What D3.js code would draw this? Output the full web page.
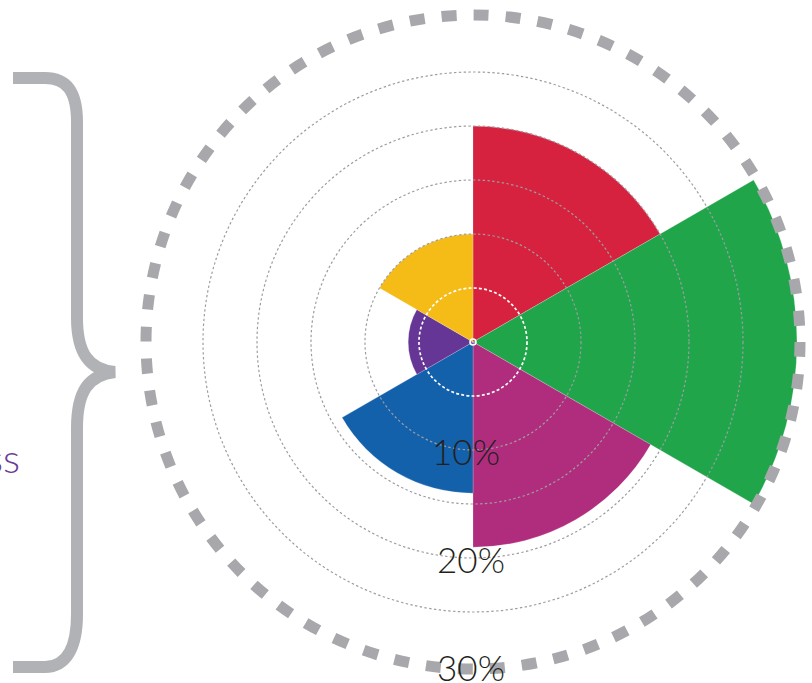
<!DOCTYPE html>
<html>
<head>
<meta charset="utf-8">
<script src="https://cdn.jsdelivr.net/npm/d3@7"></script>
<style>
  html, body { margin: 0; padding: 0; background: #fff; overflow: hidden; }
  svg { display: block; }
</style>
</head>
<body>
<svg id="chart" width="812" height="683"></svg>
<script>
// ---- data ----
const categories = ["Segment 1", "Segment 2", "Segment 3", "Segment 4", "Segment 5", "Segment 6"];
const values = [20, 30, 19, 14, 6, 10];            // percent
const colors = ["#d6223f", "#21a54b", "#b02d7e", "#1360ab", "#653695", "#f5bb17"];
const gridTicks = [10, 15, 20, 25];                // dotted grey rings
const innerTick = 5;                               // white dashed ring
const outerTick = 30;                              // thick dashed ring
const tickLabels = [10, 20, 30];
const sideLabel = "ss";

// ---- layout ----
const svg = d3.select("#chart");
const cx = 473, cy = 342;
const r = d3.scaleLinear().domain([0, 30]).range([0, 324]);
const angle = d3.scaleLinear().domain([0, categories.length]).range([0, 2 * Math.PI]);
const g = svg.append("g").attr("transform", `translate(${cx},${cy})`);
const font = "Lato, 'Liberation Sans', Arial, sans-serif";

// sectors
const arc = d3.arc().innerRadius(0);
g.selectAll("path.sector")
  .data(values)
  .join("path")
  .attr("class", "sector")
  .attr("d", (d, i) => arc({ outerRadius: r(d), startAngle: angle(i), endAngle: angle(i + 1) }))
  .attr("fill", (d, i) => colors[i])
  .attr("stroke", "#ffffff")
  .attr("stroke-opacity", 0.35)
  .attr("stroke-width", 0.6);

// dotted grid rings
g.selectAll("circle.grid")
  .data(gridTicks)
  .join("circle")
  .attr("class", "grid")
  .attr("r", d => r(d))
  .attr("fill", "none")
  .attr("stroke", "#9d9da1")
  .attr("stroke-width", 1.2)
  .attr("stroke-dasharray", "2.4 2.4");

// inner white ring
g.append("circle")
  .attr("r", r(innerTick))
  .attr("fill", "none")
  .attr("stroke", "#ffffff")
  .attr("stroke-width", 1.7)
  .attr("stroke-dasharray", "3 2.2");

// outer thick dashed ring
const rOuter = r(outerTick) + 3;
const circ = 2 * Math.PI * rOuter;
const period = circ / 64;
g.append("circle")
  .attr("r", rOuter)
  .attr("fill", "none")
  .attr("stroke", "#a8a8ac")
  .attr("stroke-width", 11)
  .attr("stroke-dasharray", `${15} ${period - 15}`)
  .attr("stroke-dashoffset", 0);

// center marker
g.append("circle")
  .attr("r", 3)
  .attr("fill", "none")
  .attr("stroke", "#ffffff")
  .attr("stroke-width", 1.6);

// tick labels
g.selectAll("text.tick")
  .data(tickLabels)
  .join("text")
  .attr("class", "tick")
  .attr("x", d => d === 10 ? -7 : -2)
  .attr("y", d => r(d) + 15)
  .attr("text-anchor", "middle")
  .attr("font-family", font)
  .attr("font-weight", 300)
  .attr("font-size", 35)
  .attr("fill", "#231f20")
  .text(d => d + "%");

// brace
const brace = "M13,78 L45,78 C66,78 77,90 77,122 L77,318 C77,352 88,370 115,372 " +
              "C88,375 77,392 77,428 L77,614 C77,648 66,667 45,667 L13,667";
svg.append("path")
  .attr("d", brace)
  .attr("fill", "none")
  .attr("stroke", "#b1b2b5")
  .attr("stroke-width", 12)
  .attr("stroke-linejoin", "miter")
  .attr("stroke-miterlimit", 10);

// side label (clipped by page edge, as in the reference)
svg.append("text")
  .attr("x", 20)
  .attr("y", 473)
  .attr("text-anchor", "end")
  .attr("font-family", font)
  .attr("font-weight", 300)
  .attr("font-size", 40)
  .attr("fill", "#6a3d9a")
  .text(sideLabel);
</script>
</body>
</html>
